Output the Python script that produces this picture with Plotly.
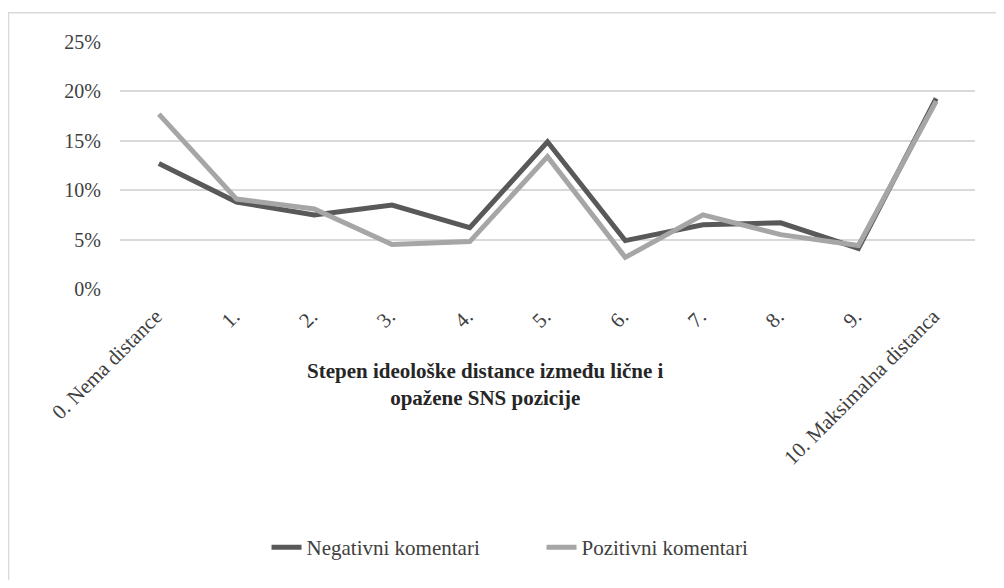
import plotly.graph_objects as go

# categories on the x axis (ideological distance)
categories = ["0. Nema distance", "1.", "2.", "3.", "4.", "5.", "6.", "7.", "8.", "9.",
              "10. Maksimalna distanca"]

# share of comments per distance level (%)
negativni = [12.7, 8.8, 7.5, 8.5, 6.2, 14.9, 4.9, 6.5, 6.7, 4.1, 19.3]
pozitivni = [17.7, 9.1, 8.1, 4.5, 4.8, 13.4, 3.2, 7.5, 5.5, 4.4, 19.0]

y_ticks = [0, 5, 10, 15, 20, 25]
y_labels = ["0%", "5%", "10%", "15%", "20%", "25%"]

font_family = "Liberation Serif"
text_color = "#404040"

fig = go.Figure()
fig.add_trace(go.Scatter(
    x=categories, y=negativni, mode="lines", name="Negativni komentari",
    line=dict(color="#595959", width=5),
))
fig.add_trace(go.Scatter(
    x=categories, y=pozitivni, mode="lines", name="Pozitivni komentari",
    line=dict(color="#a6a6a6", width=5),
))

# outer chart frame (light grey border like the Excel chart area)
fig.add_shape(type="rect", xref="paper", yref="paper",
              x0=-0.1304, x1=1.2, y0=-1.3, y1=1.118,
              line=dict(color="#d9d9d9", width=1.5), fillcolor="rgba(0,0,0,0)",
              layer="below")

# axis title sits in the middle of the label area, as in the original
fig.add_annotation(
    text="<b>Stepen ideološke distance između lične i<br>opažene SNS pozicije</b>",
    xref="paper", yref="paper", x=0.427, y=-0.386,
    xanchor="center", yanchor="middle", showarrow=False,
    font=dict(family=font_family, size=21, color="#262626"),
)

# page body has an 8px margin, so the figure is 16px smaller than the window
fig.update_layout(
    width=988, height=572,
    margin=dict(l=112, r=21, t=34, b=284),
    paper_bgcolor="#ffffff",
    plot_bgcolor="#ffffff",
    font=dict(family=font_family, size=20, color=text_color),
    showlegend=True,
    legend=dict(
        orientation="h", x=0.493, y=-1.047, xanchor="center", yanchor="middle",
        font=dict(family=font_family, size=21, color=text_color),
        itemwidth=30, entrywidth=230, entrywidthmode="pixels",
    ),
    xaxis=dict(
        type="category", range=[-0.5, 10.5],
        showgrid=False, zeroline=False, showline=False,
        tickangle=-45, ticks="",
        ticklabelstandoff=10, ticklabelshift=-3,
        tickfont=dict(family=font_family, size=21, color=text_color),
    ),
    yaxis=dict(
        range=[0, 25], tickvals=y_ticks, ticktext=y_labels,
        showgrid=True, gridcolor="#d9d9d9", gridwidth=1.5,
        zeroline=False, showline=False, ticks="",
        ticklabelstandoff=18,
        tickfont=dict(family=font_family, size=20, color=text_color),
    ),
)

fig.write_html("out.html")
